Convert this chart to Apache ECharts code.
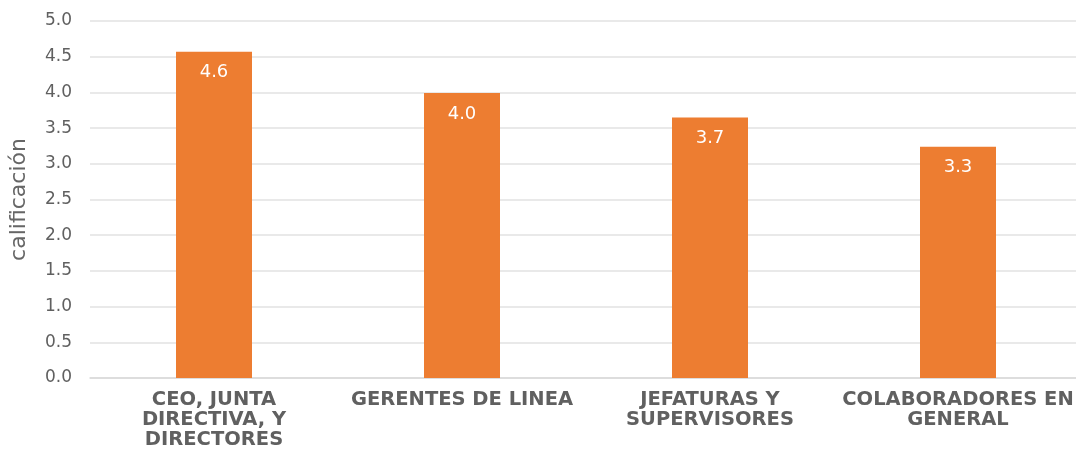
<!DOCTYPE html>
<html>
<head>
<meta charset="utf-8">
<script src="https://cdn.jsdelivr.net/npm/echarts@6/dist/echarts.min.js"></script>
<style>
  html, body { margin: 0; padding: 0; background: #fff; }
  #chart { width: 1076px; height: 453px; }
</style>
</head>
<body>
<div id="chart"></div>
<script>
// datos
const categories = [
  "CEO, JUNTA\nDIRECTIVA, Y\nDIRECTORES",
  "GERENTES DE LINEA",
  "JEFATURAS Y\nSUPERVISORES",
  "COLABORADORES EN\nGENERAL",
];
const scores = [4.57, 3.99, 3.65, 3.24];
const scoreLabels = ["4.6", "4.0", "3.7", "3.3"];
const yTicks = { min: 0, max: 5, interval: 0.5 };

const chart = echarts.init(document.getElementById("chart"));
chart.setOption({
  animation: false,
  grid: { left: 90, right: -6, top: 21, bottom: 75, outerBoundsMode: "none" },
  xAxis: {
    type: "category",
    data: categories,
    axisLine: { lineStyle: { color: "#d9d9d9", width: 1.5 } },
    axisTick: { show: false },
    axisLabel: {
      interval: 0,
      margin: 12,
      color: "#606060",
      fontFamily: "DejaVu Sans",
      fontWeight: "bold",
      fontSize: 19.5,
      lineHeight: 20,
    },
  },
  yAxis: {
    type: "value",
    min: yTicks.min,
    max: yTicks.max,
    interval: yTicks.interval,
    name: "calificación",
    nameLocation: "middle",
    nameGap: 60,
    nameTextStyle: {
      color: "#666",
      fontFamily: "DejaVu Sans",
      fontSize: 22,
    },
    axisLabel: {
      margin: 18,
      color: "#606060",
      fontFamily: "DejaVu Sans",
      fontSize: 17,
      formatter: (v) => v.toFixed(1),
    },
    splitLine: { lineStyle: { color: "#e2e2e2", width: 1.5 } },
  },
  series: [
    {
      type: "bar",
      data: scores,
      barWidth: 76,
      itemStyle: { color: "#ED7D31" },
      label: {
        show: true,
        position: "insideTop",
        distance: 12,
        color: "#fff",
        fontFamily: "DejaVu Sans",
        fontSize: 18,
        formatter: (p) => scoreLabels[p.dataIndex],
      },
    },
  ],
});
</script>
</body>
</html>
